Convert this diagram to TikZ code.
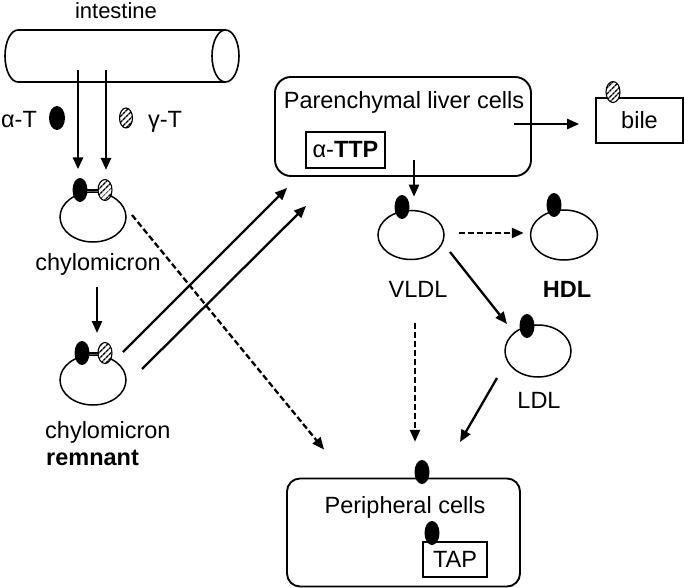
\documentclass[tikz,border=0pt]{standalone}
\usepackage{fontspec}
\setmainfont{Liberation Sans}
\usetikzlibrary{arrows.meta,shapes.geometric,patterns.meta}
\begin{document}
\begin{tikzpicture}[x=1pt,y=-1pt, font=\fontsize{23.5pt}{28pt}\selectfont,
 lipo/.style={draw, ellipse, line width=1.5pt, inner sep=0pt, minimum width=66pt, minimum height=50pt},
 blk/.style={ellipse, fill=black, inner sep=0pt, minimum width=15pt, minimum height=24pt},
 hat/.style={ellipse, draw, line width=1.1pt, fill=white, postaction={pattern={Lines[angle=45,distance=4pt,line width=1.5pt]}}, inner sep=0pt, minimum width=14pt, minimum height=21pt},
 arr/.style={line width=2.3pt, -{Triangle[length=12pt,width=10pt]}},
 darr/.style={arr, dash pattern=on 6pt off 3pt},
 box/.style={draw, line width=1.6pt, inner sep=0pt},
 rbox/.style={draw, line width=1.9pt, rounded corners=16pt, inner sep=0pt},
 txt/.style={inner sep=0pt, anchor=base}
]
\useasboundingbox (0,0) rectangle (685,588);

% intestine tube
\draw[line width=1.6pt] (18,30) -- (225.5,30) (225.5,82) -- (18,82)
  arc[start angle=270, end angle=90, x radius=13pt, y radius=26pt];
\draw[line width=1.6pt] (225.5,56) ellipse[x radius=13.5pt, y radius=26pt];
\node[txt, font=\fontsize{22pt}{26pt}\selectfont] (intlbl) at (116,19) {intestine};
\coordinate (i1) at (78,70);
\coordinate (i2) at (106,70);

% legend
\node[txt] (aTl) at (19,128) {α-T};
\node[blk, minimum width=16pt] (aT) at (57,118) {};
\node[hat, minimum width=13pt, minimum height=20pt] (gT) at (126,118) {};
\node[txt] (gTl) at (165,128) {γ-T};

% chylomicron
\node[lipo] (chy) at (93,217) {};
\draw[line width=1.3pt] (80,190) -- (105,190);
\node[blk] (chyA) at (80,190) {};
\node[hat] (chyG) at (105,190) {};
\node[txt] (chylbl) at (98,270) {chylomicron};

% remnant
\node[lipo] (rem) at (93,380) {};
\draw[line width=1.3pt] (82,353) -- (105,353);
\node[blk] (remA) at (82,353) {};
\node[hat] (remG) at (105,353) {};
\node[txt, anchor=base west] (remlbl1) at (45,438) {chylomicron};
\node[txt, anchor=base west] (remlbl2) at (46,465) {\bfseries remnant};

% liver
\node[rbox, minimum width=256pt, minimum height=99pt] (liver) at (403,126.5) {};
\node[txt] (livlbl) at (404,109) {Parenchymal liver cells};
\node[box, minimum width=79pt, minimum height=36pt] (ttp) at (345.5,150) {α-\textbf{TTP}};
\node[box, minimum width=87pt, minimum height=45pt] (bile) at (639.5,120.5) {bile};
\node[hat] (bileG) at (613,92) {};

% VLDL, HDL, LDL
\node[lipo, minimum height=49pt] (vldl) at (411,235) {};
\node[blk] (vldlA) at (402,207) {};
\node[txt] (vldllbl) at (418,297) {VLDL};
\node[lipo, minimum width=67pt] (hdl) at (564,235) {};
\node[blk] (hdlA) at (554,205) {};
\node[txt] (hdllbl) at (567,297) {\bfseries HDL};
\node[lipo, minimum height=52pt] (ldl) at (538,351) {};
\node[blk] (ldlA) at (527,326) {};
\node[txt] (ldllbl) at (539,408) {LDL};

% peripheral
\node[rbox, rounded corners=13pt, minimum width=233pt, minimum height=108pt] (peri) at (403.5,532.5) {};
\node[txt] (perilbl) at (405,513) {Peripheral cells};
\node[box, minimum width=64pt, minimum height=35pt] (tap) at (455,559.5) {TAP};
\node[blk] (tapA) at (432,533) {};
\node[blk] (periA) at (422,472) {};

% connectors
\draw[arr, line width=2.7pt, shorten >=8.5pt] (i1) -- (i1 |- chyA.north);
\draw[arr, line width=2.7pt, shorten >=9pt] (i2) -- (i2 |- chyG.north);
\draw[arr] ([shift={(-1,17)}]chylbl.base) -- ([shift={(15,-20)}]remA.center);
\draw[arr] ([shift={(18,-1)}]remG.center) -- ([shift={(13,11)}]liver.south west);
\draw[arr] ([shift={(49,-11)}]rem.center) -- ([shift={(32,29)}]liver.south west);
\draw[darr] ([shift={(39,-2)}]chy.center) -- ([shift={(38,-28)}]peri.north west);
\coordinate (lb) at ([shift={(-18,-2.5)}]liver.east);
\draw[arr, shorten >=16pt] (lb) -- (lb -| bile.west);
\coordinate (lv) at ([shift={(11,-17)}]liver.south);
\draw[arr, shorten >=13pt] (lv) -- (lv |- vldl.north);
\draw[darr, shorten <=14pt, shorten >=6pt] ([shift={(0,-2)}]vldl.east) -- ([shift={(0,-2)}]hdl.west);
\draw[arr] ([shift={(39,17)}]vldl.center) -- ([shift={(-31,-27)}]ldl.center);
\coordinate (vp) at ([shift={(4,88)}]vldl.center);
\draw[darr, shorten >=18pt] (vp) -- (vp |- periA.north);
\draw[arr] ([shift={(-41,27)}]ldl.center) -- ([shift={(38,-30)}]periA.center);
\end{tikzpicture}
\end{document}
